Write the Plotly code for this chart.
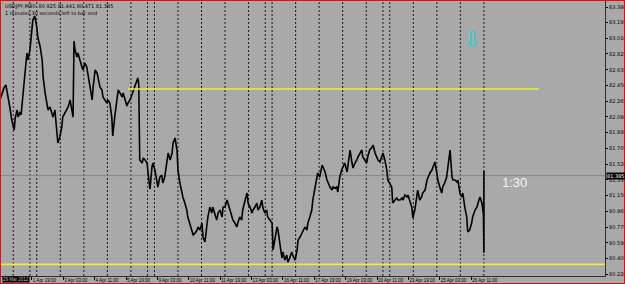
import plotly.graph_objects as go

# ---------------- data ----------------
symbol = "USDJPY,M30"
last_open, last_high, last_low, last_close = 80.925, 81.441, 80.471, 81.385
timer_text = "1 minutes 30 seconds left to bar end"
countdown_text = "1:30"
first_date_label = "29 Mar 2012"

# bars (M30) per trading session, first partial day then Fri/Sun/Mon..Thu
day_bars = [27, 34, 14, 48, 48, 48, 48, 34, 14, 48, 48, 48, 48,
            34, 14, 48, 48, 48, 48, 34, 14, 48, 48, 48, 48]

time_label_bars = [65, 129, 193, 257, 321, 385, 449, 513, 577, 641,
                   705, 769, 833, 897, 961]
time_label_texts = ["1 Apr 19:00", "3 Apr 03:00", "4 Apr 11:00", "5 Apr 19:00",
                    "9 Apr 03:00", "10 Apr 11:00", "11 Apr 19:00", "13 Apr 03:00",
                    "16 Apr 11:00", "17 Apr 19:00", "19 Apr 03:00", "20 Apr 11:00",
                    "23 Apr 19:00", "25 Apr 03:00", "26 Apr 11:00"]

price_ticks = [83.380, 83.195, 83.010, 82.825, 82.635, 82.450, 82.265, 82.080,
               81.895, 81.705, 81.520, 81.335, 81.150, 80.965, 80.775, 80.590,
               80.405, 80.220]

level_upper = 82.41
level_upper_bars = [261, 1099]
level_lower = 80.335
arrow_bar, arrow_price = 963, 83.00
countdown_bar, countdown_price = 1050, 81.30

# price path (bar index, price)
path_a = [(0, 82.280), (4, 82.362), (8, 82.422), (12, 82.457), (14, 82.398), (18, 82.280),
          (20, 82.197), (24, 82.043), (27, 81.960), (29, 81.925), (31, 82.067), (35, 82.161),
          (37, 82.078), (41, 82.138), (43, 82.102), (47, 82.398), (51, 82.599), (55, 82.836),
          (57, 82.753), (61, 82.871), (65, 83.072), (67, 83.226), (71, 83.274), (75, 83.143),
          (77, 83.025), (82, 82.907), (86, 82.753), (88, 82.552), (92, 82.362), (96, 82.197),
          (98, 82.161), (102, 82.197), (106, 82.126), (108, 82.078), (112, 82.161), (116, 81.889),
          (118, 81.771), (122, 81.842), (126, 81.960), (128, 82.078), (133, 82.126), (137, 82.161),
          (139, 82.197), (143, 82.280), (147, 82.138), (149, 82.078), (151, 82.978), (153, 82.871),
          (157, 82.788), (159, 82.836), (163, 82.753), (167, 82.670), (169, 82.635), (173, 82.717),
          (177, 82.670), (179, 82.599), (184, 82.433), (188, 82.280), (190, 82.433), (194, 82.635),
          (198, 82.599), (200, 82.552), (204, 82.433), (208, 82.398), (210, 82.315), (214, 82.280),
          (218, 82.244), (220, 82.280), (224, 82.244), (228, 82.078), (230, 81.854), (234, 82.078),
          (239, 82.315), (241, 82.398), (245, 82.362), (249, 82.315), (251, 82.362), (255, 82.280),
          (259, 82.209), (261, 82.244), (265, 82.280), (269, 82.339), (271, 82.374), (275, 82.445),
          (279, 82.493), (281, 82.540), (283, 82.469)]
path_b = [(285, 81.570), (290, 81.534), (292, 81.593), (296, 81.570), (300, 81.534), (302, 81.416),
          (306, 81.226), (310, 81.487), (312, 81.534), (316, 81.451), (320, 81.333), (322, 81.250),
          (326, 81.368), (330, 81.392), (332, 81.297), (336, 81.368), (341, 81.570), (343, 81.652),
          (347, 81.570), (351, 81.652), (353, 81.771), (357, 81.830), (361, 81.688), (363, 81.451),
          (367, 81.297), (371, 81.179), (373, 81.132), (377, 81.061), (381, 80.978), (383, 80.895),
          (387, 80.824), (391, 80.741), (394, 80.682), (398, 80.706), (402, 80.741), (404, 80.777),
          (408, 80.741), (412, 80.824), (414, 80.658), (418, 80.599), (422, 80.860), (424, 80.895),
          (428, 81.013), (432, 80.942), (434, 81.013), (438, 80.942), (442, 80.860), (445, 80.942),
          (449, 80.978), (453, 80.895), (455, 81.013), (459, 81.013), (463, 81.096), (465, 81.061),
          (469, 80.978), (473, 80.895), (475, 80.860), (479, 80.824), (483, 80.777), (485, 80.824),
          (489, 80.895), (493, 80.860), (495, 80.978), (500, 81.096), (504, 81.179), (506, 81.061),
          (510, 81.013), (514, 80.942), (516, 80.978), (520, 81.013), (524, 81.061), (526, 80.978),
          (530, 81.013), (534, 81.096), (536, 81.013), (540, 80.942), (544, 80.978), (546, 80.895),
          (551, 80.860), (555, 80.824), (557, 80.505), (561, 80.623), (565, 80.777), (567, 80.741),
          (571, 80.540), (575, 80.410), (577, 80.481), (581, 80.386), (585, 80.445), (587, 80.362),
          (591, 80.410), (595, 80.481), (597, 80.445), (602, 80.386), (606, 80.505), (608, 80.623),
          (612, 80.658), (616, 80.706), (618, 80.741), (622, 80.777), (626, 80.741), (628, 80.824),
          (632, 80.895), (636, 80.978), (638, 81.096), (642, 81.214), (646, 81.333), (648, 81.416),
          (652, 81.368), (657, 81.510), (659, 81.487), (663, 81.428), (667, 81.333), (669, 81.297),
          (673, 81.250), (677, 81.214), (679, 81.250), (683, 81.238), (687, 81.250), (689, 81.191)]
path_c = [(693, 81.368), (697, 81.451), (699, 81.487), (703, 81.534), (708, 81.428), (710, 81.534),
          (714, 81.688), (718, 81.534), (720, 81.475), (724, 81.534), (728, 81.570), (730, 81.605),
          (734, 81.652), (738, 81.688), (740, 81.605), (744, 81.570), (748, 81.534), (750, 81.605),
          (754, 81.688), (759, 81.723), (761, 81.747), (765, 81.652), (769, 81.593), (771, 81.570),
          (775, 81.546), (779, 81.605), (781, 81.652), (785, 81.570), (789, 81.451), (791, 81.333),
          (795, 81.297), (799, 81.250), (801, 81.061), (805, 81.096), (809, 81.120), (812, 81.096),
          (816, 81.096), (820, 81.120), (822, 81.096), (826, 81.155), (830, 81.132), (832, 81.155),
          (836, 81.096), (840, 81.013), (842, 80.883), (846, 80.978), (850, 81.132), (852, 81.214),
          (856, 81.096), (860, 81.132), (862, 81.179), (867, 81.214), (871, 81.333), (873, 81.368),
          (877, 81.416), (881, 81.451), (883, 81.487), (887, 81.546), (891, 81.416), (893, 81.333),
          (897, 81.250), (901, 81.179), (903, 81.250), (907, 81.297), (911, 81.368), (913, 81.451),
          (918, 81.688), (922, 81.368), (924, 81.333), (928, 81.333), (932, 81.309), (934, 81.333),
          (938, 81.179), (942, 81.132), (944, 81.179), (948, 81.013), (952, 80.895), (954, 80.718),
          (958, 80.741), (962, 80.824), (964, 80.895), (969, 80.978), (973, 81.013), (975, 81.061),
          (979, 81.132), (983, 81.061), (986, 80.925)]

# ---------------- figure ----------------
W, H = 625, 284
PLOT_RIGHT = 605 / W
PLOT_BOTTOM = (H - 276) / H
X_MAX = 1234
Y_RANGE = [80.197, 83.463]

last_bar = sum(day_bars)
path = path_a + path_b + path_c
xs = [b for b, _ in path] + [last_bar, last_bar, last_bar]
ys = [p for _, p in path] + [last_low, last_high, last_close]

BG = "#a9a9a9"
FONT = "DejaVu Sans"
SMALL = "Liberation Sans"

fig = go.Figure()

# day separators
starts = []
acc = 0
for n in day_bars[:-1]:
    acc += n
    starts.append(acc)
starts.append(last_bar)
shapes = []
for s in sorted(set(starts)):
    shapes.append(dict(type="line", xref="x", yref="paper", x0=s, x1=s,
                       y0=PLOT_BOTTOM, y1=1, layer="below",
                       line=dict(color="#1a1a1a", width=1, dash="2px,2px")))

# bid line
shapes.append(dict(type="line", xref="paper", yref="y", x0=0, x1=PLOT_RIGHT,
                   y0=last_close, y1=last_close, layer="below",
                   line=dict(color="#7f8a94", width=1)))
# lower yellow level
shapes.append(dict(type="line", xref="paper", yref="y", x0=0, x1=PLOT_RIGHT,
                   y0=level_lower, y1=level_lower,
                   line=dict(color="#ecec40", width=1.6)))
# upper yellow level
shapes.append(dict(type="line", xref="x", yref="y", x0=level_upper_bars[0],
                   x1=level_upper_bars[1], y0=level_upper, y1=level_upper,
                   line=dict(color="#ecec40", width=1.6)))
# red frame
shapes.append(dict(type="rect", xref="paper", yref="paper", x0=0, x1=1, y0=0, y1=1,
                   line=dict(color="#e01010", width=2)))

fig.add_trace(go.Scatter(x=xs, y=ys, mode="lines",
                         line=dict(color="#000000", width=1.6),
                         hoverinfo="skip", showlegend=False))

annotations = [
    dict(xref="paper", yref="paper", x=3 / W, y=1 - 1 / H, xanchor="left", yanchor="top",
         text=f"{symbol}  {last_open:.3f} {last_high:.3f} {last_low:.3f} {last_close:.3f}<br>{timer_text}",
         showarrow=False, align="left", font=dict(family=FONT, size=5, color="#000000")),
    dict(xref="paper", yref="y", x=606 / W, y=last_close, xanchor="left", yanchor="middle",
         text=f"{last_close:.3f}", showarrow=False, bgcolor="#000000", borderpad=0,
         font=dict(family=FONT, size=5, color="#ffffff")),
    dict(xref="x", yref="y", x=countdown_bar, y=countdown_price, text=countdown_text,
         showarrow=False, font=dict(family="Liberation Sans", size=13, color="#f4f4f4")),
    dict(xref="x", yref="y", x=arrow_bar, y=arrow_price, text="<b>⇩</b>", showarrow=False,
         font=dict(family=FONT, size=22, color="#38ccd6")),
    dict(xref="paper", yref="paper", x=2 / W, y=1 / H, xanchor="left", yanchor="bottom",
         text=first_date_label, showarrow=False, bgcolor="#000000", borderpad=0,
         font=dict(family=SMALL, size=4.5, color="#bdbdbd")),
]

fig.update_layout(
    width=W, height=H,
    margin=dict(l=0, r=0, t=0, b=0, autoexpand=False),
    paper_bgcolor=BG, plot_bgcolor=BG,
    shapes=shapes, annotations=annotations,
    xaxis=dict(domain=[0, PLOT_RIGHT], range=[0, X_MAX], showgrid=False, zeroline=False,
               tickmode="array", tickvals=time_label_bars, ticktext=time_label_texts,
               ticks="outside", ticklen=3, tickcolor="#000000", tickangle=0,
               ticklabelposition="outside right", automargin=False,
               tickfont=dict(family=SMALL, size=4.5, color="#000000"),
               showline=True, linecolor="#303030", linewidth=1, fixedrange=True),
    yaxis=dict(domain=[PLOT_BOTTOM, 1], range=Y_RANGE, side="right", showgrid=False,
               zeroline=False, tickmode="array", tickvals=price_ticks, automargin=False,
               ticktext=[f"{v:.3f}" for v in price_ticks],
               ticks="outside", ticklen=2, tickcolor="#000000",
               tickfont=dict(family=FONT, size=5, color="#000000"),
               showline=True, linecolor="#303030", linewidth=1, fixedrange=True),
)

fig.write_html("out.html")
